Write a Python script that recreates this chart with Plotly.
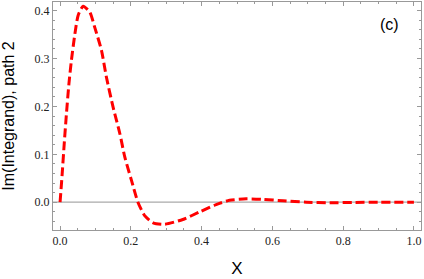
import plotly.graph_objects as go

x_vals = [0.0, 0.006, 0.012, 0.018, 0.025, 0.032, 0.042, 0.051, 0.065, 0.084, 0.098,
          0.117, 0.131, 0.150, 0.169, 0.183, 0.202, 0.220, 0.239, 0.263, 0.295, 0.347,
          0.395, 0.441, 0.479, 0.526, 0.573, 0.630, 0.696, 0.762, 0.827, 0.903, 1.0]
y_vals = [0.0, 0.06, 0.125, 0.185, 0.247, 0.296, 0.352, 0.39, 0.409, 0.397, 0.365,
          0.317, 0.261, 0.198, 0.143, 0.094, 0.045, 0.0, -0.028, -0.043, -0.046, -0.036,
          -0.020, -0.005, 0.004, 0.007, 0.006, 0.003, 0.0, -0.001, -0.0005, 0.0, 0.0]

x_title = "X"
y_title = "Im(Integrand), path 2"
panel_label = "(c)"

fig = go.Figure()
fig.add_trace(go.Scatter(
    x=x_vals, y=y_vals, mode="lines",
    line=dict(color="#FF0000", width=3, dash="9px,4px", shape="spline", smoothing=0.6),
    showlegend=False, hoverinfo="skip"))

axis_common = dict(
    showgrid=False, zeroline=False, showline=True, linecolor="#999999", linewidth=1,
    mirror="allticks", ticks="inside", ticklen=4, tickwidth=1, tickcolor="#999999",
    tickfont=dict(family="Liberation Serif", size=12, color="#222222"),
    ticklabeloverflow="allow",
)

fig.update_xaxes(range=[-0.02, 1.02], tick0=0, dtick=0.2, tickformat=".1f",
                 minor=dict(ticks="inside", ticklen=2, dtick=0.05, tick0=0, tickcolor="#999999"),
                 title=dict(text=x_title, font=dict(family="Liberation Sans", size=17, color="#000000"), standoff=14),
                 **axis_common)
fig.update_yaxes(range=[-0.058, 0.418], tick0=0, dtick=0.1, tickformat=".1f",
                 minor=dict(ticks="inside", ticklen=2, dtick=0.02, tick0=0, tickcolor="#999999"),
                 title=dict(text=y_title, font=dict(family="Liberation Sans", size=16, color="#000000"), standoff=16),
                 **axis_common)

fig.add_shape(type="line", xref="paper", x0=0, x1=1, yref="y", y0=0, y1=0,
              line=dict(color="#AAAAAA", width=1.2), layer="below")

fig.add_annotation(x=0.914, y=0.901, xref="paper", yref="paper", text=panel_label,
                   showarrow=False, xanchor="center", yanchor="middle",
                   font=dict(family="Liberation Sans", size=16, color="#000000"))

fig.update_layout(width=424, height=279, margin=dict(l=53, r=3, t=2, b=49),
                  paper_bgcolor="white", plot_bgcolor="white")

fig.write_html("out.html", config={"displayModeBar": False},
               post_script="document.body.style.margin='0';document.body.style.overflow='hidden';")
